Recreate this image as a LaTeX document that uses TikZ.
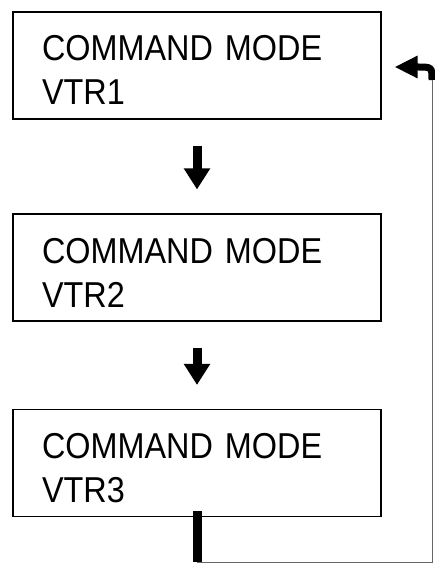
\documentclass[tikz,border=0pt]{standalone}
\usepackage{fontspec}
\setmainfont[FakeStretch=0.9]{Liberation Sans}
\usetikzlibrary{arrows.meta,positioning,calc}

\begin{document}
\begin{tikzpicture}[x=1pt, y=-1pt,
  modebox/.style={draw, line width=1.1pt, minimum width=368pt, minimum height=107pt,
    text width=310pt, align=left, inner sep=0pt,
    font=\fontsize{36}{44}\selectfont},
  flowarrow/.style={line width=9pt, -{Triangle[length=21pt, width=25pt]},
    shorten <=26pt, shorten >=24pt},
  fatline/.style={line width=9pt},
  thinline/.style={line width=0.5pt, black!60}]
\useasboundingbox (0,0) rectangle (435,564);
% the three modes, one under the other
\node[modebox] (vtr1) at (197,65.5) {\rule{0pt}{35pt}COMMAND MODE\\VTR1};
\node[modebox] (vtr2) at (197,267.5) {\rule{0pt}{35pt}COMMAND MODE\\VTR2};
\node[modebox] (vtr3) at (197,463) {\rule{0pt}{35pt}COMMAND MODE\\VTR3};
\draw[flowarrow] (vtr1) -- (vtr2);
\draw[flowarrow] (vtr2) -- (vtr3);
% back from VTR3 to VTR1, round the right side
\coordinate (ret) at (197,562);
\coordinate (turn) at (432,80);
\draw[fatline] ([yshift=6pt]vtr3.south) -- (ret);
\draw[thinline] (ret) -| (turn);
\draw[line width=7pt, -{Triangle[length=23pt, width=21pt]}, shorten >=13pt]
  (turn) .. controls (432,67) .. (417,67) -- (vtr1.east |- 0,67);
\end{tikzpicture}
\end{document}
